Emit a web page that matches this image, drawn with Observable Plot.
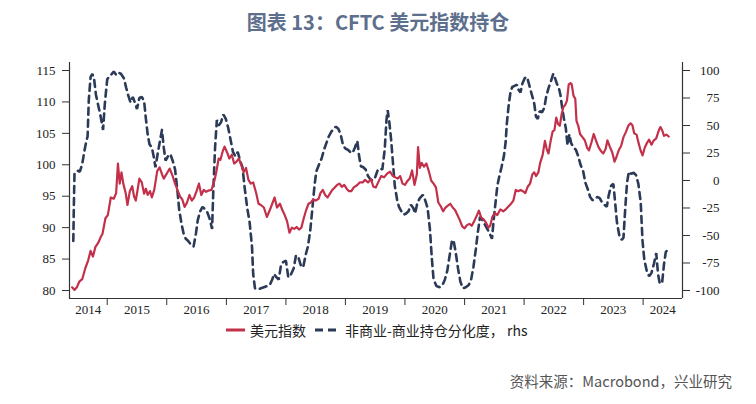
<!DOCTYPE html>
<html>
<head>
<meta charset="utf-8">
<script src="https://cdn.jsdelivr.net/npm/d3@7"></script>
<script src="https://cdn.jsdelivr.net/npm/@observablehq/plot@0.6"></script>
<style>
  html, body { margin: 0; padding: 0; background: #fff; }
  #wrap { position: relative; width: 756px; height: 404px; overflow: hidden; }
  #title { position: absolute; left: 0; top: 8px; width: 756px; text-align: center;
    font-family: "Noto Sans CJK SC", "Noto Sans", sans-serif; font-weight: 700; font-size: 20px;
    color: #5d6f8d; line-height: 28px; }
  #chart { position: absolute; left: 0; top: 40px; }
  #legend { position: absolute; left: 226px; top: 320px; height: 20px; display: flex; align-items: center;
    font-family: "Noto Sans CJK SC", sans-serif; font-size: 14px; color: #222; white-space: nowrap; }
  #legend svg { display: block; }
  #source { position: absolute; right: 24px; top: 370px; font-family: "Noto Sans CJK SC", sans-serif;
    font-size: 14.5px; color: #555; white-space: nowrap; line-height: 22px; }
</style>
</head>
<body>
<div id="wrap">
  <div id="title">图表 13：CFTC 美元指数持仓</div>
  <div id="chart"></div>
  <div id="legend"></div>
  <div id="source">资料来源：Macrobond，兴业研究</div>
</div>
<script>
// ---------- data (decimal years) ----------
const dxyT = [2014.41,2014.45,2014.49,2014.53,2014.58,2014.63,2014.68,2014.72,2014.76,2014.80,2014.85,2014.89,2014.92,2014.97,2015.01,2015.06,2015.11,2015.15,2015.18,2015.21,2015.24,2015.27,2015.31,2015.34,2015.38,2015.42,2015.45,2015.48,2015.51,2015.54,2015.58,2015.62,2015.65,2015.68,2015.72,2015.75,2015.79,2015.84,2015.88,2015.92,2015.95,2016.00,2016.05,2016.10,2016.14,2016.18,2016.22,2016.26,2016.30,2016.34,2016.38,2016.42,2016.46,2016.50,2016.54,2016.58,2016.62,2016.66,2016.70,2016.75,2016.80,2016.83,2016.87,2016.90,2016.94,2016.97,2017.01,2017.05,2017.09,2017.13,2017.17,2017.21,2017.25,2017.29,2017.33,2017.37,2017.41,2017.45,2017.50,2017.54,2017.58,2017.63,2017.68,2017.73,2017.77,2017.81,2017.85,2017.90,2017.94,2017.98,2018.02,2018.06,2018.10,2018.14,2018.18,2018.22,2018.26,2018.30,2018.34,2018.38,2018.42,2018.46,2018.50,2018.55,2018.58,2018.62,2018.66,2018.70,2018.74,2018.78,2018.82,2018.86,2018.90,2018.94,2018.98,2019.02,2019.06,2019.10,2019.14,2019.19,2019.24,2019.29,2019.33,2019.38,2019.43,2019.47,2019.51,2019.55,2019.60,2019.65,2019.70,2019.75,2019.79,2019.84,2019.88,2019.92,2019.96,2020.00,2020.04,2020.08,2020.12,2020.16,2020.20,2020.22,2020.25,2020.28,2020.32,2020.36,2020.40,2020.44,2020.48,2020.52,2020.56,2020.60,2020.64,2020.68,2020.72,2020.76,2020.80,2020.84,2020.88,2020.92,2020.96,2021.00,2021.04,2021.08,2021.12,2021.16,2021.20,2021.24,2021.28,2021.32,2021.36,2021.40,2021.43,2021.47,2021.51,2021.55,2021.60,2021.65,2021.70,2021.74,2021.78,2021.82,2021.86,2021.90,2021.94,2021.98,2022.02,2022.06,2022.10,2022.14,2022.17,2022.20,2022.24,2022.27,2022.31,2022.35,2022.38,2022.41,2022.45,2022.48,2022.51,2022.54,2022.57,2022.60,2022.63,2022.66,2022.69,2022.72,2022.75,2022.78,2022.80,2022.83,2022.86,2022.88,2022.91,2022.94,2022.98,2023.02,2023.06,2023.09,2023.13,2023.17,2023.21,2023.25,2023.29,2023.33,2023.37,2023.40,2023.44,2023.48,2023.52,2023.55,2023.59,2023.63,2023.67,2023.71,2023.75,2023.79,2023.82,2023.85,2023.89,2023.92,2023.96,2023.99,2024.03,2024.06,2024.10,2024.14,2024.18,2024.22,2024.26,2024.29,2024.32,2024.35,2024.39,2024.43];
const dxyV = [80.5,80.1,80.5,81.4,81.8,83.5,84.8,86.3,85.4,86.9,87.6,88.5,89.0,91.5,92.0,94.8,94.6,95.5,100.2,97.0,98.8,97.0,95.5,93.6,95.8,96.6,95.0,94.3,96.0,97.8,97.2,95.4,96.2,95.2,95.8,94.8,96.0,99.0,99.6,98.5,97.8,98.6,99.4,98.2,97.0,96.0,95.0,94.5,93.3,94.0,95.2,94.3,94.8,95.8,97.0,95.2,96.0,95.7,95.9,96.0,97.5,98.8,101.0,100.8,102.2,102.9,102.0,101.0,101.6,100.2,100.5,101.0,100.0,98.8,99.5,97.6,97.0,97.2,95.5,93.8,93.6,93.2,91.7,92.8,93.8,94.8,93.2,93.8,92.8,92.0,91.0,89.2,90.0,89.8,90.1,89.7,90.0,91.5,92.8,93.8,94.0,94.5,94.3,94.6,95.5,96.0,95.2,94.8,95.4,96.0,96.4,96.8,97.0,96.5,96.8,96.2,95.8,95.8,96.4,96.7,97.2,97.2,97.6,97.2,97.7,96.5,96.4,97.2,98.2,98.0,98.6,98.9,98.3,98.0,97.8,98.2,97.0,96.8,97.4,97.8,99.1,96.8,98.5,102.8,99.5,100.3,99.7,100.2,99.0,97.5,97.0,96.4,94.0,93.4,92.6,93.2,93.5,93.8,93.2,92.8,92.0,91.2,90.2,89.9,90.4,90.6,90.3,91.0,91.8,92.7,91.6,91.3,90.8,90.0,90.3,91.8,92.3,92.0,92.9,92.6,93.0,93.4,93.8,94.3,96.0,95.8,96.0,95.8,95.5,96.5,97.0,98.5,98.8,98.2,98.8,100.3,101.5,103.8,102.5,101.8,104.0,105.3,105.5,107.5,106.5,106.2,108.0,109.2,109.5,110.2,112.8,113.0,112.8,111.0,110.5,107.0,106.2,104.9,104.4,103.9,102.7,102.3,103.5,104.9,103.8,102.8,102.2,101.8,102.5,103.9,102.9,102.0,100.5,101.2,102.3,103.0,104.4,105.2,106.2,106.6,106.3,105.0,104.8,103.6,102.2,101.5,102.8,103.4,104.0,103.2,103.9,104.2,105.4,106.0,105.5,104.6,104.8,104.5];

const posT = [2014.43,2014.44,2014.45,2014.50,2014.54,2014.58,2014.62,2014.65,2014.67,2014.69,2014.72,2014.75,2014.78,2014.81,2014.85,2014.89,2014.93,2014.96,2015.00,2015.04,2015.08,2015.11,2015.15,2015.19,2015.23,2015.28,2015.32,2015.35,2015.39,2015.43,2015.47,2015.50,2015.54,2015.58,2015.62,2015.65,2015.68,2015.71,2015.75,2015.78,2015.81,2015.85,2015.88,2015.92,2015.95,2015.98,2016.02,2016.06,2016.10,2016.14,2016.18,2016.21,2016.25,2016.29,2016.32,2016.36,2016.40,2016.45,2016.49,2016.52,2016.56,2016.60,2016.64,2016.68,2016.72,2016.76,2016.78,2016.81,2016.84,2016.87,2016.91,2016.95,2016.99,2017.03,2017.07,2017.11,2017.15,2017.19,2017.23,2017.27,2017.31,2017.35,2017.39,2017.43,2017.45,2017.48,2017.53,2017.58,2017.63,2017.68,2017.73,2017.77,2017.80,2017.84,2017.88,2017.92,2017.96,2018.00,2018.04,2018.08,2018.13,2018.17,2018.21,2018.25,2018.29,2018.33,2018.37,2018.41,2018.44,2018.48,2018.51,2018.56,2018.60,2018.64,2018.68,2018.72,2018.76,2018.80,2018.84,2018.88,2018.92,2018.96,2019.00,2019.04,2019.08,2019.12,2019.16,2019.20,2019.23,2019.26,2019.30,2019.34,2019.38,2019.42,2019.46,2019.50,2019.54,2019.58,2019.62,2019.66,2019.69,2019.71,2019.74,2019.77,2019.80,2019.83,2019.87,2019.90,2019.94,2019.98,2020.02,2020.06,2020.10,2020.14,2020.17,2020.21,2020.25,2020.30,2020.34,2020.38,2020.42,2020.45,2020.48,2020.53,2020.58,2020.63,2020.67,2020.71,2020.75,2020.79,2020.82,2020.85,2020.89,2020.93,2020.97,2021.02,2021.07,2021.11,2021.15,2021.19,2021.22,2021.26,2021.30,2021.34,2021.38,2021.42,2021.46,2021.49,2021.52,2021.55,2021.58,2021.62,2021.66,2021.69,2021.71,2021.74,2021.77,2021.80,2021.84,2021.88,2021.91,2021.94,2021.97,2022.01,2022.05,2022.08,2022.11,2022.14,2022.17,2022.20,2022.23,2022.26,2022.30,2022.34,2022.37,2022.41,2022.45,2022.49,2022.52,2022.55,2022.58,2022.61,2022.64,2022.67,2022.70,2022.73,2022.76,2022.79,2022.83,2022.87,2022.91,2022.95,2022.99,2023.03,2023.07,2023.11,2023.15,2023.19,2023.23,2023.27,2023.31,2023.35,2023.39,2023.42,2023.46,2023.50,2023.53,2023.56,2023.60,2023.64,2023.67,2023.70,2023.73,2023.76,2023.80,2023.84,2023.88,2023.92,2023.96,2023.99,2024.02,2024.06,2024.10,2024.14,2024.18,2024.22,2024.25,2024.28,2024.32,2024.35,2024.38,2024.41];
const posV = [-55,-20,6,9,8,15,28,36,40,73,94,97,92,78,68,58,46,70,92,95,97,99,96,98,97,93,84,78,71,76,70,65,75,76,72,56,42,33,30,22,12,25,34,46,30,18,22,24,18,10,-10,-27,-40,-50,-53,-55,-58,-60,-48,-36,-28,-24,-26,-29,-35,-44,-10,30,55,50,53,60,56,48,37,26,22,26,18,12,-8,-25,-38,-60,-85,-98,-99,-98,-97,-96,-95,-90,-85,-88,-90,-76,-74,-73,-88,-86,-80,-68,-70,-77,-79,-68,-60,-45,-28,-5,8,15,20,28,34,40,44,47,49,47,42,32,29,28,26,25,30,36,22,13,12,10,4,1,0,3,9,11,10,28,55,64,52,36,15,-5,-18,-24,-28,-31,-30,-28,-22,-25,-30,-20,-16,-13,-18,-25,-45,-70,-90,-96,-97,-95,-90,-82,-68,-54,-56,-65,-80,-92,-98,-97,-95,-90,-78,-62,-48,-33,-36,-40,-44,-48,-53,-35,-20,-5,3,12,22,35,52,68,80,85,86,87,82,80,88,93,94,88,82,76,70,58,56,63,62,66,76,84,90,97,93,88,85,78,66,56,48,32,42,34,30,28,22,14,9,-2,-8,-15,-18,-17,-15,-16,-20,-22,-24,-14,-5,-3,-20,-38,-50,-54,-52,-25,-2,8,6,7,5,-3,-20,-55,-72,-82,-87,-84,-76,-66,-85,-94,-92,-76,-65,-63];

const leftTicks = [80, 85, 90, 95, 100, 105, 110, 115];
const rightTicks = [-100, -75, -50, -25, 0, 25, 50, 75, 100];
const yearLabels = ["2014","2015","2016","2017","2018","2019","2020","2021","2022","2023","2024"];
const xStartEnd = [2014.366, 2024.66];
const yLeftDomain = [78.727, 116.273];

const legendItems = ["美元指数", "非商业-商业持仓分化度， rhs"];
const RED = "#c3304a", NAVY = "#2b3a57";

// ---------- helpers ----------
function toDate(t) {
  const y = Math.floor(t);
  const a = Date.UTC(y, 0, 1), b = Date.UTC(y + 1, 0, 1);
  return new Date(a + (t - y) * (b - a));
}
// right axis (-100..100) mapped onto left axis (80..115)
const toLeft = r => 80 + (r + 100) * 35 / 200;
const toRight = v => (v - 80) * 200 / 35 - 100;

const dxy = dxyT.map((t, i) => ({date: toDate(t), v: dxyV[i]}));
const pos = posT.map((t, i) => ({date: toDate(t), v: toLeft(posV[i])}));

const x0 = toDate(xStartEnd[0]), x1 = toDate(xStartEnd[1]);
const yearTicks = yearLabels.slice(1).map(y => new Date(Date.UTC(+y, 0, 1)));
const bounds = [x0, ...yearTicks, x1];
const labelData = yearLabels.map((y, i) => ({
  label: y,
  date: new Date((bounds[i].getTime() + bounds[i + 1].getTime()) / 2)
}));

const chart = Plot.plot({
  width: 756,
  height: 300,
  marginLeft: 69,
  marginRight: 74,
  marginTop: 22,
  marginBottom: 42,
  style: {fontFamily: "'Liberation Serif', 'Times New Roman', serif", fontSize: "13px", color: "#222", background: "transparent"},
  x: {type: "utc", domain: [x0, x1], axis: null},
  y: {domain: yLeftDomain, axis: null},
  marks: [
    Plot.line(pos, {x: "date", y: "v", stroke: NAVY, strokeWidth: 2.6, strokeDasharray: "7,5", strokeLinejoin: "miter"}),
    Plot.line(dxy, {x: "date", y: "v", stroke: RED, strokeWidth: 2.2}),
    Plot.ruleX([x0, x1], {stroke: "#333", strokeWidth: 1.2}),
    Plot.ruleY([yLeftDomain[0]], {stroke: "#333", strokeWidth: 1.2}),
    Plot.axisY({anchor: "left", ticks: leftTicks, tickSize: 7, tickPadding: 7, label: null, stroke: "#333", fill: "#222"}),
    Plot.axisY({anchor: "right", ticks: rightTicks.map(toLeft), tickFormat: v => String(Math.round(toRight(v))),
      tickSize: 7, tickPadding: 30, textAnchor: "end", label: null, stroke: "#333", fill: "#222"}),
    Plot.axisX({ticks: yearTicks, tickFormat: () => "", tickSize: 7, label: null, stroke: "#333"}),
    Plot.text(labelData, {x: "date", text: "label", frameAnchor: "bottom", dy: 15, fill: "#222", fontSize: 13})
  ]
});
document.getElementById("chart").appendChild(chart);

// legend
const lg = document.getElementById("legend");
lg.innerHTML =
  `<svg width="20" height="10"><line x1="0" y1="5" x2="19" y2="5" stroke="${RED}" stroke-width="3"/></svg>` +
  `<span style="margin-left:4px">${legendItems[0]}</span>` +
  `<svg width="28" height="10" style="margin-left:9px"><line x1="0" y1="5" x2="26" y2="5" stroke="${NAVY}" stroke-width="3" stroke-dasharray="8,5"/></svg>` +
  `<span style="margin-left:2px">${legendItems[1]}</span>`;
</script>
</body>
</html>
